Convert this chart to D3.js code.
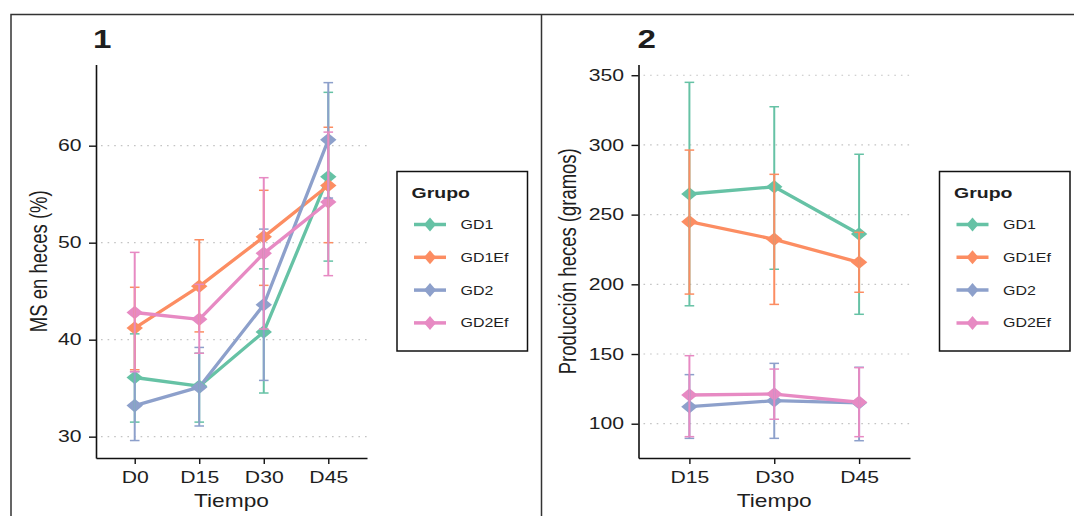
<!DOCTYPE html>
<html>
<head>
<meta charset="utf-8">
<script src="https://cdn.jsdelivr.net/npm/d3@7"></script>
<style>
  html, body { margin: 0; padding: 0; background: #fff; }
  svg { display: block; }
  text { font-family: "Liberation Sans", Arial, sans-serif; fill: #1e1e1e; }
</style>
</head>
<body>
<svg id="chart" width="1074" height="516"></svg>
<script>
// ---------- data ----------
const groups = ["GD1", "GD1Ef", "GD2", "GD2Ef"];
const colors = ["#66c2a5", "#fc8d62", "#8da0cb", "#e78ac3"];

// Panel 1: MS en heces (%)
const times1 = ["D0", "D15", "D30", "D45"];
const ms_GD1_mean   = [36.1, 35.2, 40.8, 56.8];
const ms_GD1_lo     = [31.5, 31.5, 34.5, 48.1];
const ms_GD1_hi     = [40.6, 38.6, 47.3, 65.5];
const ms_GD1Ef_mean = [41.2, 45.5, 50.6, 55.9];
const ms_GD1Ef_lo   = [36.9, 40.8, 45.6, 50.0];
const ms_GD1Ef_hi   = [45.4, 50.3, 55.4, 61.9];
const ms_GD2_mean   = [33.2, 35.1, 43.6, 60.6];
const ms_GD2_lo     = [29.6, 31.1, 35.8, 54.6];
const ms_GD2_hi     = [36.7, 39.2, 51.4, 66.5];
const ms_GD2Ef_mean = [42.8, 42.1, 48.9, 54.2];
const ms_GD2Ef_lo   = [36.7, 38.6, 41.1, 46.6];
const ms_GD2Ef_hi   = [49.0, 45.7, 56.7, 61.4];
const yTicks1 = [30, 40, 50, 60];

// Panel 2: Producción heces (gramos)
const times2 = ["D15", "D30", "D45"];
const ph_GD1_mean   = [264.8, 270.0, 236.1];
const ph_GD1_lo     = [184.6, 210.8, 178.5];
const ph_GD1_hi     = [344.9, 327.4, 293.3];
const ph_GD1Ef_mean = [244.9, 232.3, 215.8];
const ph_GD1Ef_lo   = [193.0, 185.6, 194.3];
const ph_GD1Ef_hi   = [296.3, 278.9, 237.3];
const ph_GD2_mean   = [112.2, 116.5, 115.0];
const ph_GD2_lo     = [89.5, 89.5, 87.8];
const ph_GD2_hi     = [135.2, 143.3, 140.5];
const ph_GD2Ef_mean = [120.6, 121.3, 115.4];
const ph_GD2Ef_lo   = [90.7, 103.2, 90.7];
const ph_GD2Ef_hi   = [148.8, 139.2, 140.2];
const yTicks2 = [100, 150, 200, 250, 300, 350];

// ---------- build series ----------
function buildSeries(times, means, los, his) {
  return groups.map((g, i) => ({
    group: g, color: colors[i],
    values: times.map((t, j) => ({ t, m: means[i][j], lo: los[i][j], hi: his[i][j] }))
  }));
}
const series1 = buildSeries(times1,
  [ms_GD1_mean, ms_GD1Ef_mean, ms_GD2_mean, ms_GD2Ef_mean],
  [ms_GD1_lo, ms_GD1Ef_lo, ms_GD2_lo, ms_GD2Ef_lo],
  [ms_GD1_hi, ms_GD1Ef_hi, ms_GD2_hi, ms_GD2Ef_hi]);
const series2 = buildSeries(times2,
  [ph_GD1_mean, ph_GD1Ef_mean, ph_GD2_mean, ph_GD2Ef_mean],
  [ph_GD1_lo, ph_GD1Ef_lo, ph_GD2_lo, ph_GD2Ef_lo],
  [ph_GD1_hi, ph_GD1Ef_hi, ph_GD2_hi, ph_GD2Ef_hi]);

const SX = 1.3; // horizontal stretch of the original rendering
const svg = d3.select("#chart");

// frames
svg.append("path").attr("d", "M11,520 L11,14.5 L1080,14.5")
  .attr("fill", "none").attr("stroke", "#333").attr("stroke-width", 1.5);
svg.append("line").attr("x1", 541.5).attr("x2", 541.5).attr("y1", 14.5).attr("y2", 520)
  .attr("stroke", "#333").attr("stroke-width", 1.5);

function stext(parent, x, y, str, o = {}) {
  const g = parent.append("g")
    .attr("transform", `translate(${x},${y}) scale(${SX},1)` + (o.rotate ? ` rotate(${o.rotate})` : ""));
  return g.append("text").text(str)
    .attr("text-anchor", o.anchor || "start")
    .attr("font-size", o.size || 16)
    .attr("font-weight", o.weight || "normal");
}

function diamond(hw, hh) {
  return `M0,${-hh} L${hw},0 L0,${hh} L${-hw},0 Z`;
}

function panel(cfg) {
  const { series, times, yDomain, yTicks, left, right, top, bottom, title, ylab, ylabX, legendX } = cfg;
  const g = svg.append("g");
  const x = d3.scalePoint().domain(times).range([left, right]).padding(0.6);
  const y = d3.scaleLinear().domain(yDomain).range([bottom, top]);

  // grid
  g.append("g").selectAll("line").data(yTicks).join("line")
    .attr("x1", left + 1).attr("x2", right)
    .attr("y1", d => y(d)).attr("y2", d => y(d))
    .attr("stroke", "#c4c4c4").attr("stroke-width", 1.2)
    .attr("stroke-dasharray", "1.6,5").attr("stroke-dashoffset", -4);

  // axes
  const ay = g.append("g").attr("transform", `translate(${left},0)`)
    .call(d3.axisLeft(y).tickValues(yTicks).tickSize(7).tickSizeOuter(0).tickPadding(7));
  ay.selectAll("text").attr("x", -14.5 / SX).attr("transform", `scale(${SX},1)`)
    .attr("font-size", 16.3).attr("font-family", "Liberation Sans, Arial, sans-serif").attr("fill", "#1e1e1e");
  const ax = g.append("g").attr("transform", `translate(0,${bottom})`)
    .call(d3.axisBottom(x).tickSize(6).tickSizeOuter(0).tickPadding(7));
  ax.selectAll("text").attr("transform", `scale(${SX},1)`)
    .attr("font-size", 16.3).attr("font-family", "Liberation Sans, Arial, sans-serif").attr("fill", "#1e1e1e");
  [ay, ax].forEach(a => {
    a.select(".domain").attr("stroke", "#111").attr("stroke-width", 1.6);
    a.selectAll(".tick line").attr("stroke", "#111").attr("stroke-width", 1.4);
  });

  // lines
  const line = d3.line().x(d => x(d.t)).y(d => y(d.m));
  g.append("g").selectAll("path").data(series).join("path")
    .attr("d", s => line(s.values)).attr("fill", "none")
    .attr("stroke", s => s.color).attr("stroke-width", 3.3).attr("stroke-linejoin", "round");

  // points
  series.forEach(s => {
    g.append("g").selectAll("path").data(s.values).join("path")
      .attr("d", diamond(8.2, 6.8))
      .attr("transform", d => `translate(${x(d.t)},${y(d.m)})`)
      .attr("fill", s.color);
  });

  // error bars
  const cw = 4.8;
  series.forEach(s => {
    const eg = g.append("g").attr("stroke", s.color);
    eg.selectAll("line.v").data(s.values).join("line").attr("class", "v")
      .attr("x1", d => x(d.t)).attr("x2", d => x(d.t))
      .attr("y1", d => y(d.lo)).attr("y2", d => y(d.hi)).attr("stroke-width", 2);
    eg.selectAll("line.hi").data(s.values).join("line").attr("class", "hi")
      .attr("x1", d => x(d.t) - cw).attr("x2", d => x(d.t) + cw)
      .attr("y1", d => y(d.hi)).attr("y2", d => y(d.hi)).attr("stroke-width", 1.5);
    eg.selectAll("line.lo").data(s.values).join("line").attr("class", "lo")
      .attr("x1", d => x(d.t) - cw).attr("x2", d => x(d.t) + cw)
      .attr("y1", d => y(d.lo)).attr("y2", d => y(d.lo)).attr("stroke-width", 1.5);
  });

  // titles
  stext(g, title.x, 48.3, title.text, { size: 25.5, weight: "bold" }).attr("fill", "#000");
  stext(g, (left + right) / 2, 506.5, "Tiempo", { size: 17.5, anchor: "middle" });
  stext(g, ylabX, (top + bottom) / 2, ylab, { size: 18.5, anchor: "middle", rotate: -90 });

  // legend
  const lg = g.append("g");
  lg.append("rect").attr("x", legendX).attr("y", 171.5).attr("width", 130.5).attr("height", 179.5)
    .attr("fill", "#fff").attr("stroke", "#111").attr("stroke-width", 1.5);
  stext(lg, legendX + 14.5, 198.3, "Grupo", { size: 15, weight: "bold" });
  const itemY = [224.5, 257.3, 290.1, 322.9];
  series.forEach((s, i) => {
    lg.append("line").attr("x1", legendX + 17).attr("x2", legendX + 49)
      .attr("y1", itemY[i]).attr("y2", itemY[i])
      .attr("stroke", s.color).attr("stroke-width", 3.5);
    lg.append("path").attr("d", diamond(6, 7))
      .attr("transform", `translate(${legendX + 33},${itemY[i]})`).attr("fill", s.color);
    stext(lg, legendX + 63.5, itemY[i] + 4.4, s.group, { size: 12.3 });
  });
}

panel({
  series: series1, times: times1, yDomain: [27.8, 68.37], yTicks: yTicks1,
  left: 96, right: 367, top: 64.5, bottom: 458,
  title: { text: "1", x: 93 }, ylab: "MS en heces (%)", ylabX: 47, legendX: 397
});
panel({
  series: series2, times: times2, yDomain: [75.4, 357.7], yTicks: yTicks2,
  left: 638.5, right: 910, top: 64.5, bottom: 458,
  title: { text: "2", x: 637.5 }, ylab: "Producción heces (gramos)", ylabX: 576, legendX: 939.5
});
</script>
</body>
</html>
